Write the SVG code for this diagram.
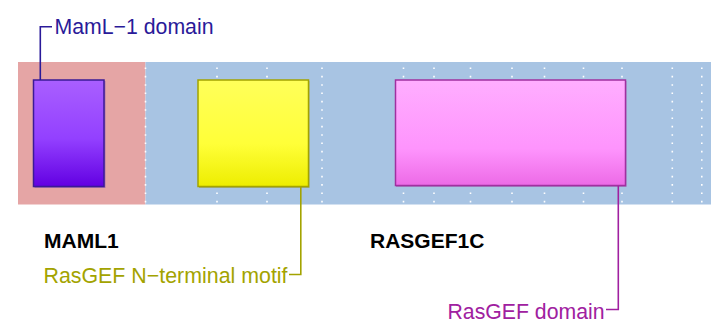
<svg xmlns="http://www.w3.org/2000/svg" width="719" height="327" viewBox="0 0 719 327">
<style>
.lbl{font-family:"Liberation Sans",Arial,sans-serif;font-size:21.3px}
.gene{font-family:"Liberation Sans",Arial,sans-serif;font-size:21px;font-weight:bold;fill:#000}
.grid{stroke:#ffffff;stroke-width:1.6;stroke-dasharray:1.6 6.73;fill:none}
.lead{fill:none;stroke-width:1.6}
</style>
<defs>
<linearGradient id="gPurple" x1="0" y1="0" x2="0" y2="1">
<stop offset="0" stop-color="#a95fff"/>
<stop offset="0.55" stop-color="#9340ff"/>
<stop offset="1" stop-color="#6200e2"/>
</linearGradient>
<linearGradient id="gYellow" x1="0" y1="0" x2="0" y2="1">
<stop offset="0" stop-color="#ffff5a"/>
<stop offset="0.6" stop-color="#ffff38"/>
<stop offset="1" stop-color="#eded00"/>
</linearGradient>
<linearGradient id="gMagenta" x1="0" y1="0" x2="0" y2="1">
<stop offset="0" stop-color="#ffaeff"/>
<stop offset="0.65" stop-color="#fe94fd"/>
<stop offset="1" stop-color="#ec6ae6"/>
</linearGradient>
</defs>
<g id="background">
<rect x="18" y="62" width="127.5" height="142.5" fill="#e5a5a5"/>
<rect x="145.5" y="62" width="565.5" height="142.5" fill="#a8c4e3"/>
</g>
<g id="gridlines">
<line class="grid" x1="145.5" y1="67.5" x2="145.5" y2="204"/>
<line class="grid" x1="217" y1="67.5" x2="217" y2="204"/>
<line class="grid" x1="267" y1="67.5" x2="267" y2="204"/>
<line class="grid" x1="322" y1="67.5" x2="322" y2="204"/>
<line class="grid" x1="403.5" y1="67.5" x2="403.5" y2="204"/>
<line class="grid" x1="434" y1="67.5" x2="434" y2="204"/>
<line class="grid" x1="470.5" y1="67.5" x2="470.5" y2="204"/>
<line class="grid" x1="512" y1="67.5" x2="512" y2="204"/>
<line class="grid" x1="544.5" y1="67.5" x2="544.5" y2="204"/>
<line class="grid" x1="583.5" y1="67.5" x2="583.5" y2="204"/>
<line class="grid" x1="622" y1="67.5" x2="622" y2="204"/>
<line class="grid" x1="672.3" y1="67.5" x2="672.3" y2="204"/>
<line class="grid" x1="701.8" y1="67.5" x2="701.8" y2="204"/>
</g>
<g id="node-maml1-domain">
<rect x="34.5" y="81" width="71" height="107" fill="#6a3fb0" opacity="0.45"/>
<rect x="33.5" y="80" width="70.5" height="106.5" fill="url(#gPurple)" stroke="#3a1a96" stroke-width="1.5"/>
</g>
<g id="node-rasgef-n">
<rect x="199" y="81" width="110.5" height="107" fill="#8a8a10" opacity="0.45"/>
<rect x="198" y="80" width="110.5" height="106.5" fill="url(#gYellow)" stroke="#a3a300" stroke-width="1.5"/>
</g>
<g id="node-rasgef-domain">
<rect x="396" y="81" width="230.5" height="106" fill="#9a3a9a" opacity="0.45"/>
<rect x="395.5" y="80" width="230" height="105.5" fill="url(#gMagenta)" stroke="#a030a0" stroke-width="1.5"/>
</g>
<g id="connectors">
<path class="lead" stroke="#2a1a99" d="M40.3,80 V26.8 H52"/>
<path class="lead" stroke="#a3a300" d="M300.8,187 V274.5 H289"/>
<path class="lead" stroke="#a020a0" d="M618.3,186 V309.5 H606"/>
</g>
<g id="labels">
<text class="lbl" x="54.5" y="34" fill="#2a1a99" textLength="159" lengthAdjust="spacingAndGlyphs">MamL−1 domain</text>
<text class="lbl" x="287.5" y="283" fill="#a3a300" text-anchor="end" textLength="244" lengthAdjust="spacingAndGlyphs">RasGEF N−terminal motif</text>
<text class="lbl" x="604.5" y="319" fill="#a020a0" text-anchor="end" textLength="157" lengthAdjust="spacingAndGlyphs">RasGEF domain</text>
<text class="gene" x="44" y="248">MAML1</text>
<text class="gene" x="370" y="248">RASGEF1C</text>
</g>
</svg>
